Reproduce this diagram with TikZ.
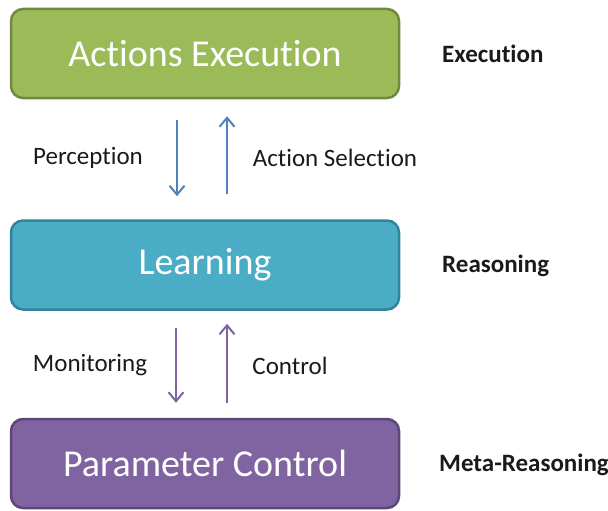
\documentclass[tikz,border=0pt]{standalone}
\usepackage{fontspec}
\setmainfont[Ligatures=NoCommon]{Carlito}
\usetikzlibrary{arrows.meta}
\definecolor{gfill}{HTML}{9BBB59}
\definecolor{gline}{HTML}{71893F}
\definecolor{afill}{HTML}{4BACC6}
\definecolor{aline}{HTML}{31849B}
\definecolor{pfill}{HTML}{8064A2}
\definecolor{pline}{HTML}{5C4776}
\definecolor{barrow}{HTML}{4F81BD}
\definecolor{txt}{HTML}{1A1A1A}
\tikzset{
  layer/.style={rounded corners=12pt, line width=2.5pt, minimum width=388pt,
                minimum height=89pt, inner sep=0pt, text=white,
                font=\fontsize{38}{38}\selectfont},
  flow/.style={line width=2pt, -{Straight Barb[length=9pt,width=15pt]}},
  lbl/.style={text=txt, font=\fontsize{25}{25}\selectfont, inner sep=0pt}
}

\begin{document}
\begin{tikzpicture}[x=1pt, y=-1pt]
          \useasboundingbox (0, 0) rectangle (608, 511);
          \node[layer, fill=gfill, draw=gline] (exec) at (205, 53.5) {Actions Execution};
          \node[layer, fill=afill, draw=aline] (learn) at (205, 265) {Learning};
          \node[layer, fill=pfill, draw=pline] (param) at (205, 463.5) {Parameter Control};
          % arrows between the layers
          \draw[flow, barrow, shorten <=21pt, shorten >=23pt] ([xshift=-28pt]exec.south) -- ([xshift=-28pt]learn.north);
          \draw[flow, barrow, shorten <=25pt, shorten >=17pt] ([xshift=22pt]learn.north) -- ([xshift=22pt]exec.south);
          \draw[flow, pfill, shorten <=17pt, shorten >=15pt] ([xshift=-29pt]learn.south) -- ([xshift=-29pt]param.north);
          \draw[flow, pfill, shorten <=15pt, shorten >=13pt] ([xshift=22pt]param.north) -- ([xshift=22pt]learn.south);
          \foreach \x/\y/\t in {88/158/Perception, 335/158/Action Selection, 90/365/Monitoring, 290/366/Control}
          \node[lbl] at (\x, \y) {\t};
          \foreach \x/\y/\t in {442/54/Execution, 442/266/Reasoning, 439/465/Meta-Reasoning}
          \node[lbl, anchor=west, font=\fontsize{25}{25}\selectfont\bfseries] at (\x, \y) {\t};
        \end{tikzpicture}
\end{document}
